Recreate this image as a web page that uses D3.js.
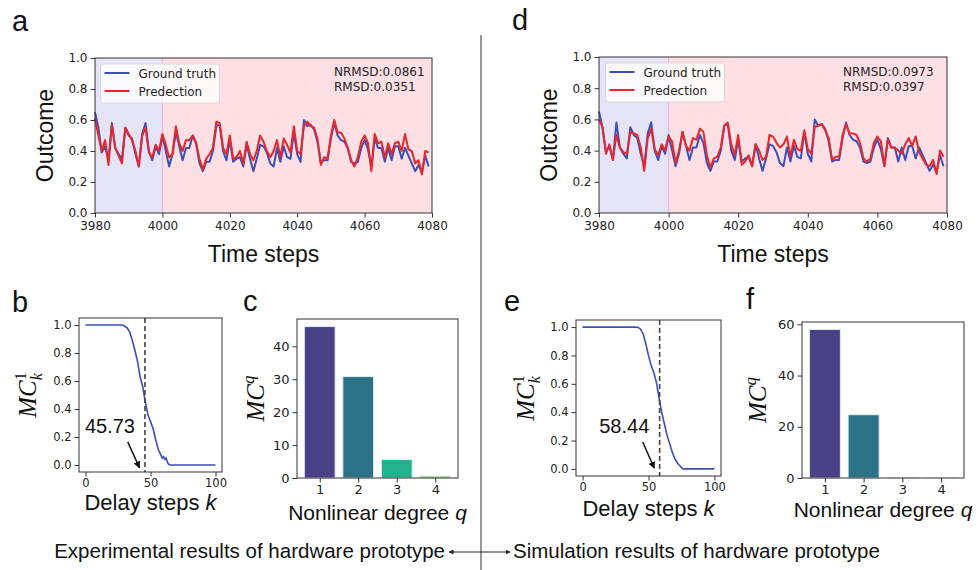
<!DOCTYPE html>
<html>
<head>
<meta charset="utf-8">
<script src="https://cdn.jsdelivr.net/npm/d3@7"></script>
<style>
  body { margin: 0; background: #fff; }
</style>
</head>
<body>
<div id="chart"></div>
<script>
// reservoir outputs, steps 3980..4079
let startStep = 3980
let trainEnd = 4000
let timeTicks = [3980, 4000, 4020, 4040, 4060, 4080]

let truth = [0.65,0.55,0.39,0.43,0.34,0.58,0.42,0.38,0.35,0.55,
  0.50,0.48,0.38,0.30,0.51,0.58,0.40,0.34,0.43,0.38,
  0.50,0.40,0.30,0.38,0.52,0.43,0.34,0.42,0.42,0.50,
  0.45,0.32,0.27,0.33,0.33,0.40,0.56,0.57,0.40,0.34,
  0.47,0.33,0.35,0.36,0.30,0.44,0.35,0.27,0.35,0.44,
  0.43,0.39,0.32,0.30,0.42,0.33,0.43,0.36,0.35,0.52,
  0.38,0.33,0.60,0.56,0.57,0.54,0.46,0.33,0.34,0.34,
  0.48,0.58,0.50,0.47,0.46,0.42,0.33,0.32,0.33,0.42,
  0.47,0.41,0.30,0.48,0.42,0.42,0.33,0.42,0.34,0.43,
  0.43,0.35,0.42,0.37,0.32,0.27,0.31,0.26,0.37,0.30]

let predExp = [0.61,0.50,0.40,0.47,0.31,0.57,0.42,0.37,0.32,0.55,
  0.51,0.47,0.40,0.30,0.50,0.55,0.39,0.36,0.44,0.40,
  0.51,0.44,0.36,0.38,0.56,0.45,0.40,0.47,0.47,0.50,
  0.45,0.35,0.28,0.35,0.38,0.42,0.59,0.58,0.42,0.38,
  0.50,0.35,0.36,0.40,0.32,0.46,0.38,0.34,0.40,0.50,
  0.46,0.40,0.36,0.40,0.47,0.36,0.48,0.44,0.39,0.56,
  0.40,0.38,0.56,0.59,0.56,0.55,0.48,0.31,0.36,0.35,
  0.50,0.60,0.52,0.52,0.48,0.42,0.34,0.30,0.36,0.46,
  0.50,0.45,0.27,0.51,0.45,0.46,0.36,0.45,0.38,0.45,
  0.46,0.40,0.51,0.41,0.40,0.32,0.34,0.25,0.40,0.39]

let predSim = [0.60,0.55,0.38,0.44,0.34,0.50,0.42,0.39,0.38,0.52,
  0.51,0.50,0.42,0.27,0.48,0.54,0.41,0.37,0.44,0.40,
  0.49,0.46,0.32,0.40,0.52,0.43,0.40,0.48,0.47,0.54,
  0.52,0.37,0.29,0.35,0.36,0.42,0.56,0.58,0.44,0.37,
  0.50,0.31,0.33,0.37,0.30,0.44,0.40,0.34,0.36,0.50,
  0.49,0.45,0.42,0.44,0.49,0.36,0.47,0.41,0.40,0.53,
  0.41,0.38,0.55,0.56,0.57,0.53,0.48,0.34,0.36,0.36,
  0.50,0.57,0.51,0.51,0.50,0.45,0.35,0.33,0.35,0.45,
  0.49,0.46,0.30,0.47,0.42,0.42,0.40,0.38,0.44,0.48,
  0.43,0.49,0.39,0.35,0.31,0.30,0.34,0.25,0.40,0.36]

let metricsExp = ["NRMSD:0.0861", "RMSD:0.0351"]
let metricsSim = ["NRMSD:0.0973", "RMSD:0.0397"]

// memory capacity curves
let kExp = [0, 10, 20, 28, 30, 32, 34, 36, 38, 40, 42, 44, 46, 48, 50, 52, 54, 56, 58, 59, 60, 61, 62, 63, 64, 65, 80, 100]
let mcExp = [1, 1, 1, 1, 0.993, 0.98, 0.95, 0.89, 0.82, 0.74, 0.63, 0.56, 0.45, 0.36, 0.31, 0.26, 0.18, 0.11, 0.07, 0.05, 0.06, 0.04, 0.05, 0.02, 0.005, 0, 0, 0]
let kSim = [0, 10, 20, 30, 40, 42, 44, 46, 48, 50, 52, 54, 56, 58, 60, 62, 64, 66, 68, 70, 72, 74, 76, 80, 100]
let mcSim = [1, 1, 1, 1, 1, 0.998, 0.985, 0.95, 0.88, 0.80, 0.73, 0.68, 0.61, 0.50, 0.40, 0.32, 0.24, 0.18, 0.12, 0.07, 0.04, 0.02, 0, 0, 0]
let cutExp = 45.73
let cutSim = 58.44

// nonlinear memory capacity per degree
let degrees = [1, 2, 3, 4]
let mcqExp = [46.0, 30.8, 5.6, 0.6]
let mcqSim = [58.0, 24.7, 0.1, 0.02]
let barColors = ["#4a4286", "#2b7287", "#22b28b", "#7cce55"]

let blue = "#3a50b8"
let red = "#e8262b"
let tickFont = "'DejaVu Sans', sans-serif"
let labelFont = "'Liberation Sans', Arial, sans-serif"

let svg = d3.select("#chart").append("svg")
  .attr("width", 980)
  .attr("height", 570)

let styleAxis = (ax, size) => {
  ax.select(".domain").remove()
  ax.selectAll("line").attr("stroke", "#333")
  ax.selectAll("text").attr("fill", "#222").style("font-family", tickFont).style("font-size", size + "px")
}

let frame = (g, l, r, t, b) => {
  g.append("rect")
    .attr("x", l).attr("y", t)
    .attr("width", r - l).attr("height", b - t)
    .attr("fill", "none").attr("stroke", "#333").attr("stroke-width", 1)
}

let panelLetter = (txt, x, y) => {
  svg.append("text").attr("x", x).attr("y", y).text(txt)
    .style("font-family", labelFont).style("font-size", "29px").attr("fill", "#111")
}

let seriesPanel = (o) => {
  let g = svg.append("g")
  let x = d3.scaleLinear().domain([3980, 4080]).range([o.l, o.r])
  let y = d3.scaleLinear().domain([0, 1]).range([o.b, o.t])

  g.append("rect").attr("x", x(3980)).attr("y", o.t)
    .attr("width", x(trainEnd) - x(3980)).attr("height", o.b - o.t)
    .attr("fill", "#e5e4f7")
  g.append("rect").attr("x", x(trainEnd)).attr("y", o.t)
    .attr("width", x(4080) - x(trainEnd)).attr("height", o.b - o.t)
    .attr("fill", "#fee0e4")
  g.append("line").attr("x1", x(trainEnd)).attr("x2", x(trainEnd))
    .attr("y1", o.t).attr("y2", o.b)
    .attr("stroke", "#e9b4ea").attr("stroke-width", 1.2)

  let line = d3.line().x((d, i) => x(startStep + i)).y(d => y(d))
  g.append("path").datum(truth).attr("d", line)
    .attr("fill", "none").attr("stroke", blue).attr("stroke-width", 2).attr("stroke-linejoin", "round")
  g.append("path").datum(o.pred).attr("d", line)
    .attr("fill", "none").attr("stroke", red).attr("stroke-width", 2).attr("stroke-linejoin", "round")

  let gx = g.append("g").attr("transform", "translate(0," + o.b + ")")
    .call(d3.axisBottom(x).tickValues(timeTicks).tickFormat(d3.format("d")).tickSize(4.5).tickPadding(4))
  styleAxis(gx, 12)
  let gy = g.append("g").attr("transform", "translate(" + o.l + ",0)")
    .call(d3.axisLeft(y).ticks(5).tickFormat(d3.format(".1f")).tickSize(4.5).tickPadding(3))
  styleAxis(gy, 12)
  frame(g, o.l, o.r, o.t, o.b)

  // legend
  let lg = g.append("g").attr("transform", "translate(" + o.legX + "," + o.legY + ")")
  lg.append("rect").attr("width", 119).attr("height", 39).attr("rx", 3)
    .attr("fill", "#fff").attr("fill-opacity", 0.8).attr("stroke", "#d8d8d8")
  ;[["Ground truth", blue], ["Predection", red]].forEach((it, i) => {
    lg.append("line").attr("x1", 4).attr("x2", 29).attr("y1", 9 + i * 18).attr("y2", 9 + i * 18)
      .attr("stroke", it[1]).attr("stroke-width", 2)
    lg.append("text").attr("x", 38).attr("y", 13.5 + i * 18).text(it[0])
      .style("font-family", tickFont).style("font-size", "12px").attr("fill", "#222")
  })

  o.metrics.forEach((m, i) => {
    g.append("text").attr("x", o.metX).attr("y", o.metY + i * 15).text(m)
      .style("font-family", tickFont).style("font-size", "12px").attr("fill", "#222")
  })

  g.append("text")
    .attr("transform", "translate(" + o.ylabX + "," + ((o.t + o.b) / 2) + ") rotate(-90)")
    .attr("text-anchor", "middle").text("Outcome")
    .style("font-family", labelFont).style("font-size", "23px").attr("fill", "#111")
  g.append("text").attr("x", (o.l + o.r) / 2).attr("y", o.xlabY)
    .attr("text-anchor", "middle").text("Time steps")
    .style("font-family", labelFont).style("font-size", "23px").attr("fill", "#111")
}

let mcPanel = (o) => {
  let g = svg.append("g")
  let x = d3.scaleLinear().domain([-5, 105]).range([o.l, o.r])
  let y = d3.scaleLinear().domain([-0.05, 1.05]).range([o.b, o.t])

  let line = d3.line().x((d, i) => x(o.ks[i])).y(d => y(d))
  g.append("path").datum(o.vals).attr("d", line)
    .attr("fill", "none").attr("stroke", blue).attr("stroke-width", 1.6)
  g.append("line").attr("x1", x(o.cut)).attr("x2", x(o.cut))
    .attr("y1", o.t).attr("y2", o.b)
    .attr("stroke", "#444").attr("stroke-width", 1.6).attr("stroke-dasharray", "5,3")

  let gx = g.append("g").attr("transform", "translate(0," + o.b + ")")
    .call(d3.axisBottom(x).tickValues([0, 50, 100]).tickSize(4.5).tickPadding(2.5))
  styleAxis(gx, 11.5)
  let gy = g.append("g").attr("transform", "translate(" + o.l + ",0)")
    .call(d3.axisLeft(y).tickValues([0, 0.2, 0.4, 0.6, 0.8, 1.0]).tickFormat(d3.format(".1f")).tickSize(4.5).tickPadding(3))
  styleAxis(gy, 11.5)
  frame(g, o.l, o.r, o.t, o.b)

  // annotation
  g.append("text").attr("x", x(o.txt[0])).attr("y", y(o.txt[1]))
    .attr("text-anchor", "middle").text(o.cut.toFixed(2))
    .style("font-family", labelFont).style("font-size", "20px").attr("fill", "#111")
  g.append("line")
    .attr("x1", x(o.arr[0])).attr("y1", y(o.arr[1]))
    .attr("x2", x(o.arr[2])).attr("y2", y(o.arr[3]))
    .attr("stroke", "#111").attr("stroke-width", 1.5).attr("marker-end", "url(#head)")

  let t = g.append("text")
    .attr("transform", "translate(" + o.ylabX + "," + ((o.t + o.b) / 2) + ") rotate(-90)")
    .attr("text-anchor", "middle")
    .style("font-family", "'Liberation Serif', serif").style("font-style", "italic")
    .style("font-size", "25px").attr("fill", "#111")
  t.append("tspan").text("MC")
  t.append("tspan").attr("dy", -10).style("font-size", "16px").style("font-style", "normal").text("1")
  t.append("tspan").attr("dx", -8).attr("dy", 16).style("font-size", "16px").text("k")

  let xl = g.append("text").attr("x", (o.l + o.r) / 2).attr("y", o.xlabY)
    .attr("text-anchor", "middle")
    .style("font-family", labelFont).style("font-size", "22px").attr("fill", "#111")
  xl.append("tspan").text("Delay steps ")
  xl.append("tspan").style("font-style", "italic").text("k")
}

let barPanel = (o) => {
  let g = svg.append("g")
  let x = d3.scaleLinear().domain([0.41, 4.59]).range([o.l, o.r])
  let y = d3.scaleLinear().domain([0, d3.max(o.vals) * 1.05]).range([o.b, o.t])

  g.selectAll("rect.bar")
    .data(o.vals)
    .enter()
    .append("rect")
    .attr("class", "bar")
    .attr("x", (d, i) => x(degrees[i] - 0.4))
    .attr("width", x(1.4) - x(0.6))
    .attr("y", d => y(d))
    .attr("height", d => o.b - y(d))
    .attr("fill", (d, i) => barColors[i])
    .attr("stroke", "#e6ecf3").attr("stroke-width", 1)

  let gx = g.append("g").attr("transform", "translate(0," + o.b + ")")
    .call(d3.axisBottom(x).tickValues(degrees).tickFormat(d3.format("d")).tickSize(4.5).tickPadding(2.5))
  styleAxis(gx, 13)
  let gy = g.append("g").attr("transform", "translate(" + o.l + ",0)")
    .call(d3.axisLeft(y).tickValues(o.yTicks).tickSize(4.5).tickPadding(3))
  styleAxis(gy, 13)
  frame(g, o.l, o.r, o.t, o.b)

  let t = g.append("text")
    .attr("transform", "translate(" + o.ylabX + "," + ((o.t + o.b) / 2) + ") rotate(-90)")
    .attr("text-anchor", "middle")
    .style("font-family", "'Liberation Serif', serif").style("font-style", "italic")
    .style("font-size", "25px").attr("fill", "#111")
  t.append("tspan").text("MC")
  t.append("tspan").attr("dy", -10).style("font-size", "17px").text("q")

  let xl = g.append("text").attr("x", (o.l + o.r) / 2).attr("y", o.xlabY)
    .attr("text-anchor", "middle")
    .style("font-family", labelFont).style("font-size", "21px").attr("fill", "#111")
  xl.append("tspan").text("Nonlinear degree ")
  xl.append("tspan").style("font-style", "italic").text("q")
}

// arrow head marker
let defs = svg.append("defs")
defs.append("marker").attr("id", "head")
  .attr("viewBox", "0 0 10 10").attr("refX", 9).attr("refY", 5)
  .attr("markerWidth", 7).attr("markerHeight", 7).attr("markerUnits", "userSpaceOnUse")
  .attr("orient", "auto")
  .append("path").attr("d", "M0,0 L10,5 L0,10 Z").attr("fill", "#111")
defs.append("marker").attr("id", "small")
  .attr("viewBox", "0 0 10 10").attr("refX", 9).attr("refY", 5)
  .attr("markerWidth", 5).attr("markerHeight", 5).attr("markerUnits", "userSpaceOnUse")
  .attr("orient", "auto-start-reverse")
  .append("path").attr("d", "M0,0 L10,5 L0,10 Z").attr("fill", "#222")

seriesPanel({ l: 95, r: 432, t: 58, b: 213, pred: predExp, metrics: metricsExp,
  legX: 100.5, legY: 64, metX: 334, metY: 76, ylabX: 53, xlabY: 262 })
seriesPanel({ l: 599, r: 947, t: 57, b: 213, pred: predSim, metrics: metricsSim,
  legX: 605.5, legY: 63, metX: 843, metY: 76, ylabX: 557, xlabY: 262 })

mcPanel({ l: 79, r: 222, t: 318, b: 472, ks: kExp, vals: mcExp, cut: cutExp,
  txt: [18.8, 0.23], arr: [32.5, 0.165, 41.5, -0.02], ylabX: 36, xlabY: 510 })
mcPanel({ l: 576, r: 721, t: 320, b: 476, ks: kSim, vals: mcSim, cut: cutSim,
  txt: [31.6, 0.256], arr: [45.6, 0.19, 54.4, 0.005], ylabX: 534, xlabY: 516 })

barPanel({ l: 297, r: 458, t: 319, b: 478, vals: mcqExp, yTicks: [0, 10, 20, 30, 40], ylabX: 264, xlabY: 520 })
barPanel({ l: 802, r: 964, t: 322, b: 478, vals: mcqSim, yTicks: [0, 20, 40, 60], ylabX: 766, xlabY: 517 })

panelLetter("a", 12, 31)
panelLetter("d", 512, 30)
panelLetter("b", 12, 312)
panelLetter("c", 243, 311)
panelLetter("e", 504, 311)
panelLetter("f", 746, 309)

// divider and captions
svg.append("line").attr("x1", 481).attr("x2", 481).attr("y1", 35).attr("y2", 570)
  .attr("stroke", "#333").attr("stroke-width", 1)
svg.append("line").attr("x1", 449).attr("x2", 510).attr("y1", 552).attr("y2", 552)
  .attr("stroke", "#222").attr("stroke-width", 1)
  .attr("marker-start", "url(#small)").attr("marker-end", "url(#small)")
svg.append("text").attr("x", 445).attr("y", 558).attr("text-anchor", "end")
  .text("Experimental results of hardware prototype")
  .style("font-family", labelFont).style("font-size", "20.5px").attr("fill", "#111")
svg.append("text").attr("x", 513).attr("y", 558)
  .text("Simulation results of hardware prototype")
  .style("font-family", labelFont).style("font-size", "20.5px").attr("fill", "#111")
</script>
</body>
</html>
